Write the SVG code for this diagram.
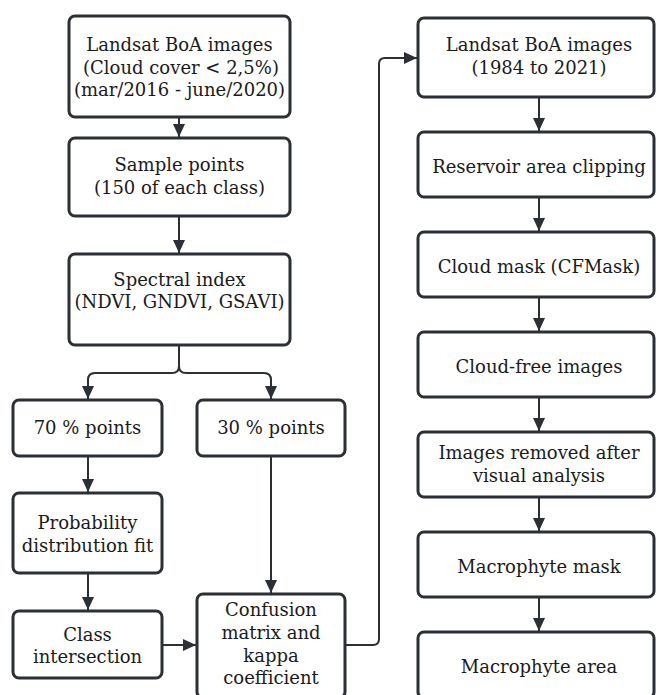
<svg xmlns="http://www.w3.org/2000/svg" width="656" height="695" viewBox="0 0 656 695">
<style>
.box{fill:#ffffff;stroke:#2b2f36;stroke-width:3}
.t{fill:#1a1a1a;text-anchor:middle}
.c{fill:none;stroke:#2b2f36;stroke-width:2}
</style>
<defs>
<marker id="ah" markerUnits="userSpaceOnUse" markerWidth="14" markerHeight="12" refX="13" refY="6" orient="auto">
<path d="M0,0 L13,6 L0,12 Z" fill="#2b2f36"/>
</marker>
</defs>
<rect width="656" height="695" fill="#ffffff"/>
<g id="connectors">
<path class="c" d="M179 117 V137" marker-end="url(#ah)"/>
<path class="c" d="M179 216 V253" marker-end="url(#ah)"/>
<path class="c" d="M179 345 V366 Q179 373 172 373 H95 Q88 373 88 380 V399" marker-end="url(#ah)"/>
<path class="c" d="M179 366 Q179 373 186 373 H264 Q271 373 271 380 V399" marker-end="url(#ah)"/>
<path class="c" d="M88 456 V492" marker-end="url(#ah)"/>
<path class="c" d="M88 573 V610" marker-end="url(#ah)"/>
<path class="c" d="M271 456 V593" marker-end="url(#ah)"/>
<path class="c" d="M162 645 H196" marker-end="url(#ah)"/>
<path class="c" d="M345 645 H373 Q379 645 379 639 V64 Q379 58 385 58 H417" marker-end="url(#ah)"/>
<path class="c" d="M539 97 V131" marker-end="url(#ah)"/>
<path class="c" d="M539 197 V231" marker-end="url(#ah)"/>
<path class="c" d="M539 297 V331" marker-end="url(#ah)"/>
<path class="c" d="M539 397 V431" marker-end="url(#ah)"/>
<path class="c" d="M539 497 V531" marker-end="url(#ah)"/>
<path class="c" d="M539 597 V631" marker-end="url(#ah)"/>
</g>
<g font-family="DejaVu Serif, Liberation Serif, serif" font-size="18">
<g id="n1"><rect class="box" x="69" y="16" width="221" height="101" rx="6"/>
<text class="t" x="179.5" y="51">Landsat BoA images</text>
<text class="t" x="181" y="74">(Cloud cover &lt; 2,5%)</text>
<text class="t" x="179.5" y="96">(mar/2016 - june/2020)</text></g>
<g id="n2"><rect class="box" x="69" y="138" width="221" height="78" rx="6"/>
<text class="t" x="179.5" y="171">Sample points</text>
<text class="t" x="179.5" y="194">(150 of each class)</text></g>
<g id="n3"><rect class="box" x="69" y="254" width="221" height="91" rx="6"/>
<text class="t" x="179.5" y="286">Spectral index</text>
<text class="t" x="179.5" y="308">(NDVI, GNDVI, GSAVI)</text></g>
<g id="n4"><rect class="box" x="13" y="400" width="149" height="56" rx="6"/>
<text class="t" x="87.5" y="434">70 % points</text></g>
<g id="n5"><rect class="box" x="197" y="400" width="148" height="56" rx="6"/>
<text class="t" x="271" y="434">30 % points</text></g>
<g id="n6"><rect class="box" x="13" y="493" width="149" height="80" rx="6"/>
<text class="t" x="87.5" y="529">Probability</text>
<text class="t" x="87.5" y="552">distribution fit</text></g>
<g id="n7"><rect class="box" x="13" y="611" width="149" height="67" rx="6"/>
<text class="t" x="87.5" y="641">Class</text>
<text class="t" x="87.5" y="663">intersection</text></g>
<g id="n8"><rect class="box" x="197" y="594" width="148" height="104" rx="6"/>
<text class="t" x="271" y="616">Confusion</text>
<text class="t" x="271" y="639">matrix and</text>
<text class="t" x="271" y="662">kappa</text>
<text class="t" x="271" y="684">coefficient</text></g>
<g id="r1"><rect class="box" x="418" y="18" width="236" height="79" rx="6"/>
<text class="t" x="539" y="51">Landsat BoA images</text>
<text class="t" x="539" y="74">(1984 to 2021)</text></g>
<g id="r2"><rect class="box" x="418" y="132" width="236" height="65" rx="6"/>
<text class="t" x="539" y="173">Reservoir area clipping</text></g>
<g id="r3"><rect class="box" x="418" y="232" width="236" height="65" rx="6"/>
<text class="t" x="539" y="273">Cloud mask (CFMask)</text></g>
<g id="r4"><rect class="box" x="418" y="332" width="236" height="65" rx="6"/>
<text class="t" x="539" y="373">Cloud-free images</text></g>
<g id="r5"><rect class="box" x="418" y="432" width="236" height="65" rx="6"/>
<text class="t" x="539" y="459">Images removed after</text>
<text class="t" x="539" y="482">visual analysis</text></g>
<g id="r6"><rect class="box" x="418" y="532" width="236" height="65" rx="6"/>
<text class="t" x="539" y="573">Macrophyte mask</text></g>
<g id="r7"><rect class="box" x="418" y="632" width="236" height="66" rx="6"/>
<text class="t" x="539" y="673">Macrophyte area</text></g>
</g>
</svg>
